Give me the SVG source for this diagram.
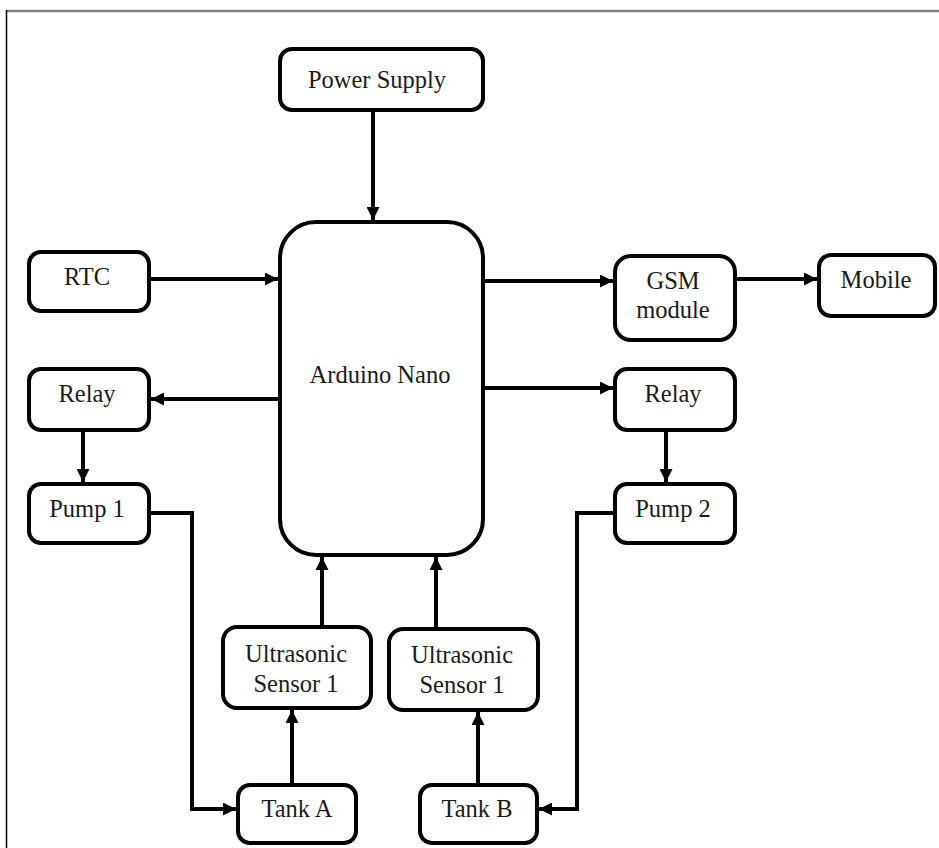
<svg xmlns="http://www.w3.org/2000/svg" width="939" height="848" viewBox="0 0 939 848">
<style>
.box{fill:#fff;stroke:#000;stroke-width:4}
.t{font-family:'Liberation Serif','Times New Roman',Tinos,'DejaVu Serif',serif;font-size:24.5px;fill:#1a1a1a;text-anchor:middle}
.c{fill:none;stroke:#000;stroke-width:4}
</style>
<defs>
<marker id="ah" markerUnits="userSpaceOnUse" markerWidth="13" markerHeight="13" viewBox="0 0 13 13" refX="13" refY="6.5" orient="auto">
<path d="M0,0 L13,6.5 L0,13 z" fill="#000"/>
</marker>
</defs>
<rect width="939" height="848" fill="#fff"/>
<line x1="6" y1="11" x2="939" y2="11" stroke="#808080" stroke-width="2.5"/>
<line x1="6.5" y1="10" x2="6.5" y2="848" stroke="#000" stroke-width="1.5"/>
<g id="connectors">
<line class="c" x1="373" y1="112" x2="373" y2="220" marker-end="url(#ah)"/>
<line class="c" x1="151" y1="279" x2="278" y2="279" marker-end="url(#ah)"/>
<line class="c" x1="278" y1="399" x2="151" y2="399" marker-end="url(#ah)"/>
<line class="c" x1="83" y1="432" x2="83" y2="482" marker-end="url(#ah)"/>
<line class="c" x1="485" y1="281" x2="613" y2="281" marker-end="url(#ah)"/>
<line class="c" x1="737" y1="279" x2="817" y2="279" marker-end="url(#ah)"/>
<line class="c" x1="485" y1="388" x2="613" y2="388" marker-end="url(#ah)"/>
<line class="c" x1="666" y1="432" x2="666" y2="482" marker-end="url(#ah)"/>
<path class="c" d="M151,513 H192 V809 H236" marker-end="url(#ah)"/>
<path class="c" d="M613,513 H577 V809 H539" marker-end="url(#ah)"/>
<line class="c" x1="322" y1="625" x2="322" y2="557" marker-end="url(#ah)"/>
<line class="c" x1="436" y1="627" x2="436" y2="557" marker-end="url(#ah)"/>
<line class="c" x1="292" y1="783" x2="292" y2="710" marker-end="url(#ah)"/>
<line class="c" x1="478" y1="783" x2="478" y2="712" marker-end="url(#ah)"/>
</g>
<g font-family="Liberation Serif, serif">
<g id="power"><rect class="box" x="280" y="49" width="203" height="61" rx="12"/><text class="t" x="377" y="88">Power Supply</text></g>
<g id="arduino"><rect class="box" x="280" y="222" width="203" height="333" rx="36"/><text class="t" x="380" y="383">Arduino Nano</text></g>
<g id="rtc"><rect class="box" x="29" y="252" width="120" height="59" rx="12"/><text class="t" x="87" y="285">RTC</text></g>
<g id="relay1"><rect class="box" x="29" y="369" width="120" height="61" rx="12"/><text class="t" x="87" y="402">Relay</text></g>
<g id="pump1"><rect class="box" x="29" y="484" width="120" height="59" rx="12"/><text class="t" x="87" y="517">Pump 1</text></g>
<g id="gsm"><rect class="box" x="615" y="256" width="120" height="84" rx="16"/><text class="t" x="673" y="289">GSM</text><text class="t" x="673" y="318">module</text></g>
<g id="mobile"><rect class="box" x="819" y="255" width="116" height="61" rx="12"/><text class="t" x="876" y="288">Mobile</text></g>
<g id="relay2"><rect class="box" x="615" y="369" width="120" height="61" rx="12"/><text class="t" x="673" y="402">Relay</text></g>
<g id="pump2"><rect class="box" x="615" y="484" width="120" height="59" rx="12"/><text class="t" x="673" y="517">Pump 2</text></g>
<g id="us1"><rect class="box" x="223" y="627" width="148" height="81" rx="14"/><text class="t" x="296" y="662">Ultrasonic</text><text class="t" x="296" y="692">Sensor 1</text></g>
<g id="us2"><rect class="box" x="389" y="629" width="149" height="81" rx="14"/><text class="t" x="462" y="663">Ultrasonic</text><text class="t" x="462" y="693">Sensor 1</text></g>
<g id="tankA"><rect class="box" x="238" y="785" width="118" height="58" rx="12"/><text class="t" x="297" y="817">Tank A</text></g>
<g id="tankB"><rect class="box" x="420" y="785" width="117" height="58" rx="12"/><text class="t" x="477" y="817">Tank B</text></g>
</g>
</svg>
